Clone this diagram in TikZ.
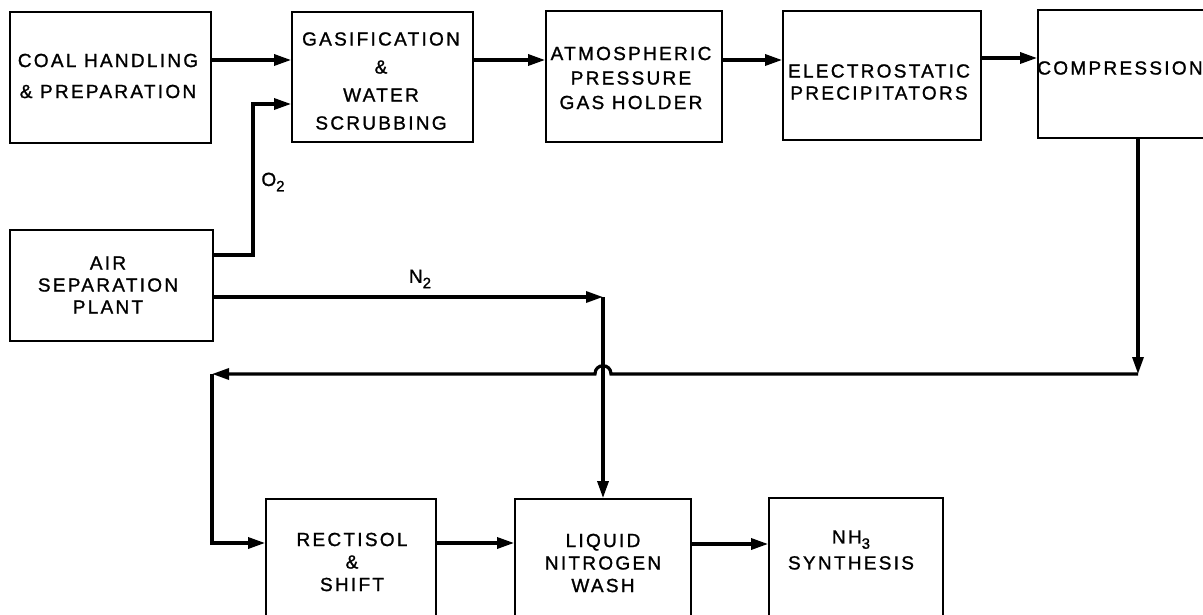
\documentclass[tikz,border=0pt]{standalone}
\usepackage{fontspec}
\newfontfamily\lettering[LetterSpace=12, FakeBold=1.2]{Liberation Sans}
\newcommand\gsub[1]{\raisebox{-0.28em}{\fontsize{15}{15}\selectfont #1}}
\usetikzlibrary{arrows.meta}

\begin{document}
\begin{tikzpicture}[x=1pt, y=-1pt,
    box/.style={draw, rectangle, line width=1.8pt, inner sep=0pt},
    flow/.style={-{Triangle[length=17pt, width=11pt]}, line width=3.2pt},
    txt/.style={align=center, inner sep=0pt, font={\lettering\fontsize{19}{#1}\selectfont}},
    txt/.default=23,
    gaslabel/.style={inner sep=0pt, font={\lettering\fontsize{19}{22}\selectfont}},
]

\useasboundingbox (0,0) rectangle (1203,615);
\clip (0,0) rectangle (1203,615);

% Top row
\node[box, minimum width=201pt, minimum height=131pt] (coal) at (110.5,77.5) {};
\node[box, minimum width=181pt, minimum height=130pt] (gasif) at (382.5,77) {};
\node[box, minimum width=176pt, minimum height=131pt] (atmos) at (634,76.5) {};
\node[box, minimum width=198pt, minimum height=129pt] (elec) at (882,75.5) {};
\node[box, minimum width=174pt, minimum height=128pt] (comp) at (1125,74) {};

\node[txt=31] (coal-txt) at (108,76) {COAL HANDLING\\\& PREPARATION};
\node[txt=28] (gasif-txt) at (381,81) {GASIFICATION\\\&\\WATER\\SCRUBBING};
\node[txt=24.5] (atmos-txt) at (631,78) {ATMOSPHERIC\\PRESSURE\\GAS HOLDER};
\node[txt=22] (elec-txt) at (879,82) {ELECTROSTATIC\\PRECIPITATORS};
\node[txt] (comp-txt) at (1120,68) {COMPRESSION};

% Air separation
\node[box, minimum width=203pt, minimum height=111pt] (air) at (111.5,285.5) {};
\node[txt=22] (air-txt) at (108,285) {AIR\\SEPARATION\\PLANT};

% Bottom row
\node[box, minimum width=170pt, minimum height=161pt] (rect) at (351,579.5) {};
\node[box, minimum width=176pt, minimum height=161pt] (liquid) at (603,579.5) {};
\node[box, minimum width=174pt, minimum height=162pt] (nh3) at (856,579) {};

\node[txt=22.5] (rect-txt) at (352,562) {RECTISOL\\\&\\SHIFT};
\node[txt=22.5] (liquid-txt) at (603,563) {LIQUID\\NITROGEN\\WASH};
\node[txt=26] (nh3-txt) at (851,550) {NH\gsub{3}\\SYNTHESIS};

% Main gas line
\draw[flow] (coal.east |- 0,60) -- (gasif.west |- 0,60);
\draw[flow] (gasif.east |- 0,60) -- (atmos.west |- 0,60);
\draw[flow] (atmos.east |- 0,60) -- (elec.west |- 0,60);
\draw[flow] (elec.east |- 0,58) -- (comp.west |- 0,58);

% Oxygen
\coordinate (o2bend) at (253,104);
\draw[flow] (air.east |- 0,255) -| (o2bend) -- (gasif.west |- o2bend);
\node[gaslabel] (o2) at (273,182) {O\gsub{2}};

% Nitrogen
\coordinate (n2bend) at (603,297);
\draw[flow] (air.east |- n2bend) -- (n2bend);
\draw[flow] (n2bend) -- (liquid.north);
\node[gaslabel] (n2) at (420,279) {N\gsub{2}};

% Compressed gas back to Rectisol
\coordinate (cbend) at (1138,374);
\coordinate (rbend) at (212,374);
\coordinate (hop) at (n2bend |- cbend);
\draw[flow] (comp.south -| cbend) -- (cbend);
\draw[flow] (cbend) -- ([xshift=8pt]hop)
    .. controls ([xshift=8pt,yshift=11pt]hop) and ([xshift=-8pt,yshift=11pt]hop) .. ([xshift=-8pt]hop)
    -- (rbend);
\draw[flow] (rbend) |- (rect.west |- 0,543);
\draw[flow] (rect.east |- 0,543) -- (liquid.west |- 0,543);
\draw[flow] (liquid.east |- 0,544) -- (nh3.west |- 0,544);

\end{tikzpicture}
\end{document}
